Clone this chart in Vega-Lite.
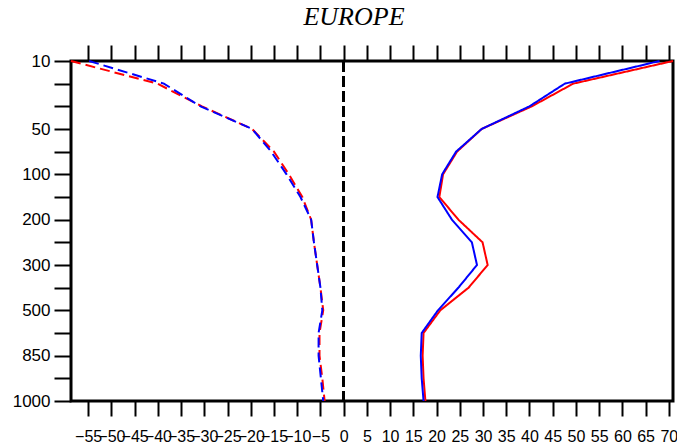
{
  "$schema": "https://vega.github.io/schema/vega-lite/v6.json",
  "autosize": {"type": "none"},
  "padding": {"left": 71, "top": 61, "right": 4, "bottom": 43},
  "width": 602,
  "height": 340,
  "background": "white",
  "title": {
    "text": "EUROPE",
    "font": "Liberation Serif",
    "fontStyle": "italic",
    "fontWeight": "normal",
    "fontSize": 26,
    "color": "black",
    "anchor": "middle",
    "dx": -18,
    "offset": 14
  },
  "config": {
    "view": {"stroke": "black", "strokeWidth": 3},
    "axis": {
      "domain": false,
      "grid": false,
      "tickColor": "black",
      "tickWidth": 2,
      "labelColor": "black"
    }
  },
  "data": {
    "values": [
      {"lev": 10, "series": "A", "side": "negative", "value": -58.7},
      {"lev": 20, "series": "A", "side": "negative", "value": -40.1},
      {"lev": 30, "series": "A", "side": "negative", "value": -30.5},
      {"lev": 50, "series": "A", "side": "negative", "value": -19.7},
      {"lev": 70, "series": "A", "side": "negative", "value": -15.0},
      {"lev": 100, "series": "A", "side": "negative", "value": -11.8},
      {"lev": 150, "series": "A", "side": "negative", "value": -8.9},
      {"lev": 200, "series": "A", "side": "negative", "value": -7.0},
      {"lev": 250, "series": "A", "side": "negative", "value": -6.4},
      {"lev": 300, "series": "A", "side": "negative", "value": -5.7},
      {"lev": 400, "series": "A", "side": "negative", "value": -5.0},
      {"lev": 500, "series": "A", "side": "negative", "value": -4.4},
      {"lev": 700, "series": "A", "side": "negative", "value": -5.2},
      {"lev": 850, "series": "A", "side": "negative", "value": -5.2},
      {"lev": 925, "series": "A", "side": "negative", "value": -4.6},
      {"lev": 1000, "series": "A", "side": "negative", "value": -4.1},

      {"lev": 10, "series": "B", "side": "negative", "value": -54.8},
      {"lev": 20, "series": "B", "side": "negative", "value": -38.7},
      {"lev": 30, "series": "B", "side": "negative", "value": -30.8},
      {"lev": 50, "series": "B", "side": "negative", "value": -19.7},
      {"lev": 70, "series": "B", "side": "negative", "value": -15.6},
      {"lev": 100, "series": "B", "side": "negative", "value": -12.3},
      {"lev": 150, "series": "B", "side": "negative", "value": -9.3},
      {"lev": 200, "series": "B", "side": "negative", "value": -7.0},
      {"lev": 250, "series": "B", "side": "negative", "value": -6.4},
      {"lev": 300, "series": "B", "side": "negative", "value": -5.7},
      {"lev": 400, "series": "B", "side": "negative", "value": -5.0},
      {"lev": 500, "series": "B", "side": "negative", "value": -4.6},
      {"lev": 700, "series": "B", "side": "negative", "value": -5.4},
      {"lev": 850, "series": "B", "side": "negative", "value": -5.4},
      {"lev": 925, "series": "B", "side": "negative", "value": -4.9},
      {"lev": 1000, "series": "B", "side": "negative", "value": -4.4},

      {"lev": 10, "series": "A", "side": "positive", "value": 70.9},
      {"lev": 20, "series": "A", "side": "positive", "value": 49.4},
      {"lev": 30, "series": "A", "side": "positive", "value": 40.5},
      {"lev": 50, "series": "A", "side": "positive", "value": 29.7},
      {"lev": 70, "series": "A", "side": "positive", "value": 24.4},
      {"lev": 100, "series": "A", "side": "positive", "value": 21.4},
      {"lev": 150, "series": "A", "side": "positive", "value": 20.6},
      {"lev": 200, "series": "A", "side": "positive", "value": 24.7},
      {"lev": 250, "series": "A", "side": "positive", "value": 29.9},
      {"lev": 300, "series": "A", "side": "positive", "value": 31.0},
      {"lev": 400, "series": "A", "side": "positive", "value": 26.9},
      {"lev": 500, "series": "A", "side": "positive", "value": 20.8},
      {"lev": 700, "series": "A", "side": "positive", "value": 17.2},
      {"lev": 850, "series": "A", "side": "positive", "value": 17.0},
      {"lev": 925, "series": "A", "side": "positive", "value": 17.2},
      {"lev": 1000, "series": "A", "side": "positive", "value": 17.6},

      {"lev": 10, "series": "B", "side": "positive", "value": 68.0},
      {"lev": 20, "series": "B", "side": "positive", "value": 47.6},
      {"lev": 30, "series": "B", "side": "positive", "value": 40.0},
      {"lev": 50, "series": "B", "side": "positive", "value": 29.7},
      {"lev": 70, "series": "B", "side": "positive", "value": 24.2},
      {"lev": 100, "series": "B", "side": "positive", "value": 21.2},
      {"lev": 150, "series": "B", "side": "positive", "value": 20.2},
      {"lev": 200, "series": "B", "side": "positive", "value": 23.3},
      {"lev": 250, "series": "B", "side": "positive", "value": 27.6},
      {"lev": 300, "series": "B", "side": "positive", "value": 28.7},
      {"lev": 400, "series": "B", "side": "positive", "value": 24.7},
      {"lev": 500, "series": "B", "side": "positive", "value": 20.3},
      {"lev": 700, "series": "B", "side": "positive", "value": 16.8},
      {"lev": 850, "series": "B", "side": "positive", "value": 16.6},
      {"lev": 925, "series": "B", "side": "positive", "value": 16.8},
      {"lev": 1000, "series": "B", "side": "positive", "value": 17.2}
    ]
  },
  "resolve": {"axis": {"x": "independent"}},
  "layer": [
    {
      "mark": {"type": "rule", "color": "black", "strokeWidth": 2, "strokeDash": [11, 4]},
      "encoding": {
        "x": {
          "datum": 0,
          "type": "quantitative",
          "scale": {"domain": [-58.7, 70.9], "nice": false, "zero": false},
          "axis": {
            "orient": "top",
            "title": null,
            "values": [-55, -50, -45, -40, -35, -30, -25, -20, -15, -10, -5, 0, 5, 10, 15, 20, 25, 30, 35, 40, 45, 50, 55, 60, 65, 70],
            "labels": false,
            "tickSize": 16
          }
        }
      }
    },
    {
      "mark": {"type": "line", "strokeWidth": 2},
      "encoding": {
        "x": {
          "field": "value",
          "type": "quantitative",
          "scale": {"domain": [-58.7, 70.9], "nice": false, "zero": false},
          "axis": {
            "orient": "bottom",
            "title": null,
            "values": [-55, -50, -45, -40, -35, -30, -25, -20, -15, -10, -5, 0, 5, 10, 15, 20, 25, 30, 35, 40, 45, 50, 55, 60, 65, 70],
            "tickSize": 15,
            "labelFont": "Liberation Sans",
            "labelFontSize": 16,
            "labelPadding": 12,
            "labelOverlap": false,
            "labelBound": false,
            "labelFlush": false,
            "labelExpr": "datum.value < 0 ? '\u2212' + abs(datum.value) : datum.label"
          }
        },
        "y": {
          "field": "lev",
          "type": "ordinal",
          "scale": {
            "type": "point",
            "padding": 0,
            "domain": [10, 20, 30, 50, 70, 100, 150, 200, 250, 300, 400, 500, 700, 850, 925, 1000]
          },
          "axis": {
            "orient": "left",
            "title": null,
            "tickSize": 17,
            "labelPadding": 4,
            "labelAngle": 0,
            "labelFont": "Liberation Sans",
            "labelFontSize": 17,
            "labelExpr": "indexof([10, 50, 100, 200, 300, 500, 850, 1000], datum.value) >= 0 ? datum.label : ''"
          }
        },
        "color": {
          "field": "series",
          "type": "nominal",
          "scale": {"domain": ["A", "B"], "range": ["#ff0000", "#0000ff"]},
          "legend": null
        },
        "strokeDash": {
          "field": "side",
          "type": "nominal",
          "scale": {"domain": ["negative", "positive"], "range": [[10, 5], [1, 0]]},
          "legend": null
        },
        "order": {"field": "lev", "type": "quantitative"}
      }
    }
  ]
}
